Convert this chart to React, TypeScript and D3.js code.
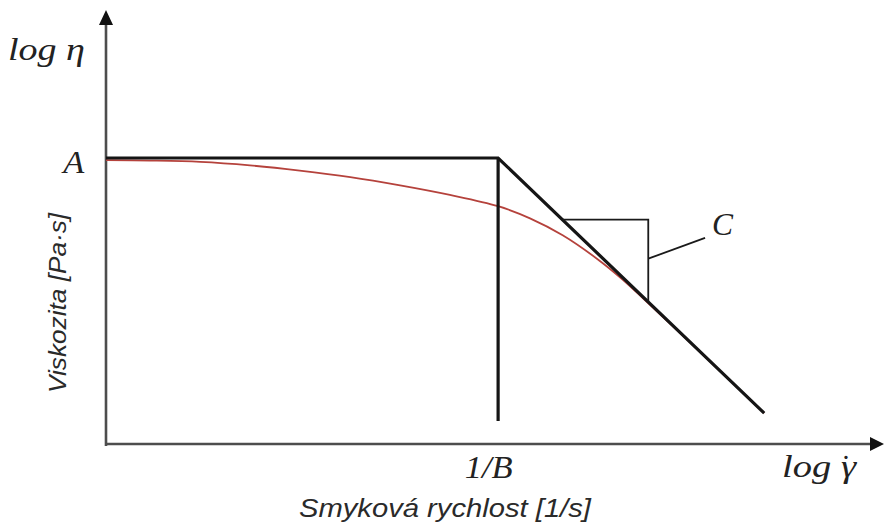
import React from "react";
import * as d3 from "d3";

const W = 885;
const H = 528;

// Cross-model viscosity curve, log(shear rate) vs log(viscosity)
const curveLogRate = [0, 0.57, 1.21, 1.85, 2.49, 3.14, 3.78, 4.42, 5.04, 5.45, 5.87, 6.31, 6.64, 6.93, 7.63, 8.46];
const curveLogVisc = [6.54, 6.53, 6.5, 6.42, 6.3, 6.15, 5.96, 5.74, 5.48, 5.2, 4.81, 4.27, 3.79, 3.31, 2.13, 0.71];

// asymptotes: zero-shear plateau A and power-law branch starting at 1/B
const plateauLevel = 6.59;
const breakRate = 5.04;
const powerLawEnd = [8.46, 0.71];
const breakFoot = 0.53;

// slope triangle and its leader to the label C
const triangleTop = 5.17;
const triangleRight = 6.97;
const leaderFrom = [6.97, 4.27];
const leaderTo = [7.7, 4.75];

const serifLabels = [
  { text: "log η", x: -1.26, y: 8.85, anchor: "start", len: 77 },
  { text: "A", x: -0.28, y: 6.24, anchor: "end", len: 21 },
  { text: "1/B", x: 4.61, y: -0.78, anchor: "start", len: 48 },
  { text: "log γ", x: 8.69, y: -0.76, anchor: "start", len: 74 },
  { text: "C", x: 7.79, y: 4.82, anchor: "start", len: 21 },
];
// dot over γ (time derivative)
const rateDot = { x: 9.51, y: -0.76 };
const xTitle = "Smyková rychlost [1/s]";
const yTitle = "Viskozita [Pa·s]";

export default function App() {
  const x = d3.scaleLinear().domain([0, 10]).range([106, 884]);
  const y = d3.scaleLinear().domain([0, 10]).range([444, 10]);

  const pts: [number, number][] = curveLogRate.map((v, i) => [v, curveLogVisc[i]]);
  const curve = d3
    .line<[number, number]>()
    .x((d) => x(d[0]))
    .y((d) => y(d[1]))
    .curve(d3.curveCatmullRom.alpha(0.5))(pts) as string;

  const slope = (powerLawEnd[1] - plateauLevel) / (powerLawEnd[0] - breakRate);
  const onDiag = (v: number) => plateauLevel + slope * (v - breakRate);
  const triLeftX = breakRate + (triangleTop - plateauLevel) / slope;

  const seg = d3.line<[number, number]>().x((d) => x(d[0])).y((d) => y(d[1]));
  const asymptote = seg([
    [0, plateauLevel],
    [breakRate, plateauLevel],
    [powerLawEnd[0], powerLawEnd[1]],
  ]) as string;
  const cutoff = seg([
    [breakRate, plateauLevel],
    [breakRate, breakFoot],
  ]) as string;
  const triangle = seg([
    [triLeftX, triangleTop],
    [triangleRight, triangleTop],
    [triangleRight, onDiag(triangleRight)],
  ]) as string;
  const leader = seg([
    [leaderFrom[0], leaderFrom[1]],
    [leaderTo[0], leaderTo[1]],
  ]) as string;

  const axisColor = "#4d4d4d";
  const x0 = x(0);
  const y0 = y(0);

  return (
    <svg
      width={W}
      height={H}
      style={{ position: "absolute", left: 0, top: 0, background: "#fff" }}
    >
      {/* axes with arrowheads */}
      <line x1={x0} y1={y0 + 2} x2={x0} y2={y(10) + 12} stroke={axisColor} strokeWidth={2.6} />
      <path
        d={`M${x0},${y(10)} L${x0 - 7},${y(10) + 15} L${x0 + 7},${y(10) + 15} Z`}
        fill="#111"
      />
      <line x1={x0 - 1} y1={y0} x2={x(10) - 10} y2={y0} stroke={axisColor} strokeWidth={2.6} />
      <path
        d={`M${x(10)},${y0} L${x(10) - 14},${y0 - 7} L${x(10) - 14},${y0 + 7} Z`}
        fill="#111"
      />

      {/* viscosity curve */}
      <path d={curve} fill="none" stroke="#b5423c" strokeWidth={1.8} />

      {/* asymptotes */}
      <path d={asymptote} fill="none" stroke="#151515" strokeWidth={3.2} strokeLinejoin="miter" />
      <path d={cutoff} fill="none" stroke="#151515" strokeWidth={3.2} />
      <path d={triangle} fill="none" stroke="#1a1a1a" strokeWidth={1.8} />
      <path d={leader} fill="none" stroke="#1a1a1a" strokeWidth={1.8} />

      {serifLabels.map((l) => (
        <text
          key={l.text}
          x={x(l.x)}
          y={y(l.y)}
          textAnchor={l.anchor}
          fontFamily="'Liberation Serif', serif"
          fontStyle="italic"
          fontSize={31}
          fill="#222"
          textLength={l.len}
          lengthAdjust="spacingAndGlyphs"
        >
          {l.text}
        </text>
      ))}
      <text
        x={x(rateDot.x)}
        y={y(rateDot.y)}
        textAnchor="middle"
        fontFamily="'Liberation Serif', serif"
        fontSize={31}
        fill="#222"
      >
        ˙
      </text>

      <text
        x={x(2.48)}
        y={y(-1.68)}
        fontFamily="'Liberation Sans', Arial, sans-serif"
        fontStyle="italic"
        fontSize={26}
        fill="#2a2a2a"
        textLength={292}
        lengthAdjust="spacingAndGlyphs"
      >
        {xTitle}
      </text>
      <text
        transform={`translate(${x(-0.515)},${y(3.25)}) rotate(-90)`}
        textAnchor="middle"
        fontFamily="'Liberation Sans', Arial, sans-serif"
        fontStyle="italic"
        fontSize={24}
        fill="#2a2a2a"
        textLength={180}
        lengthAdjust="spacingAndGlyphs"
      >
        {yTitle}
      </text>
    </svg>
  );
}
